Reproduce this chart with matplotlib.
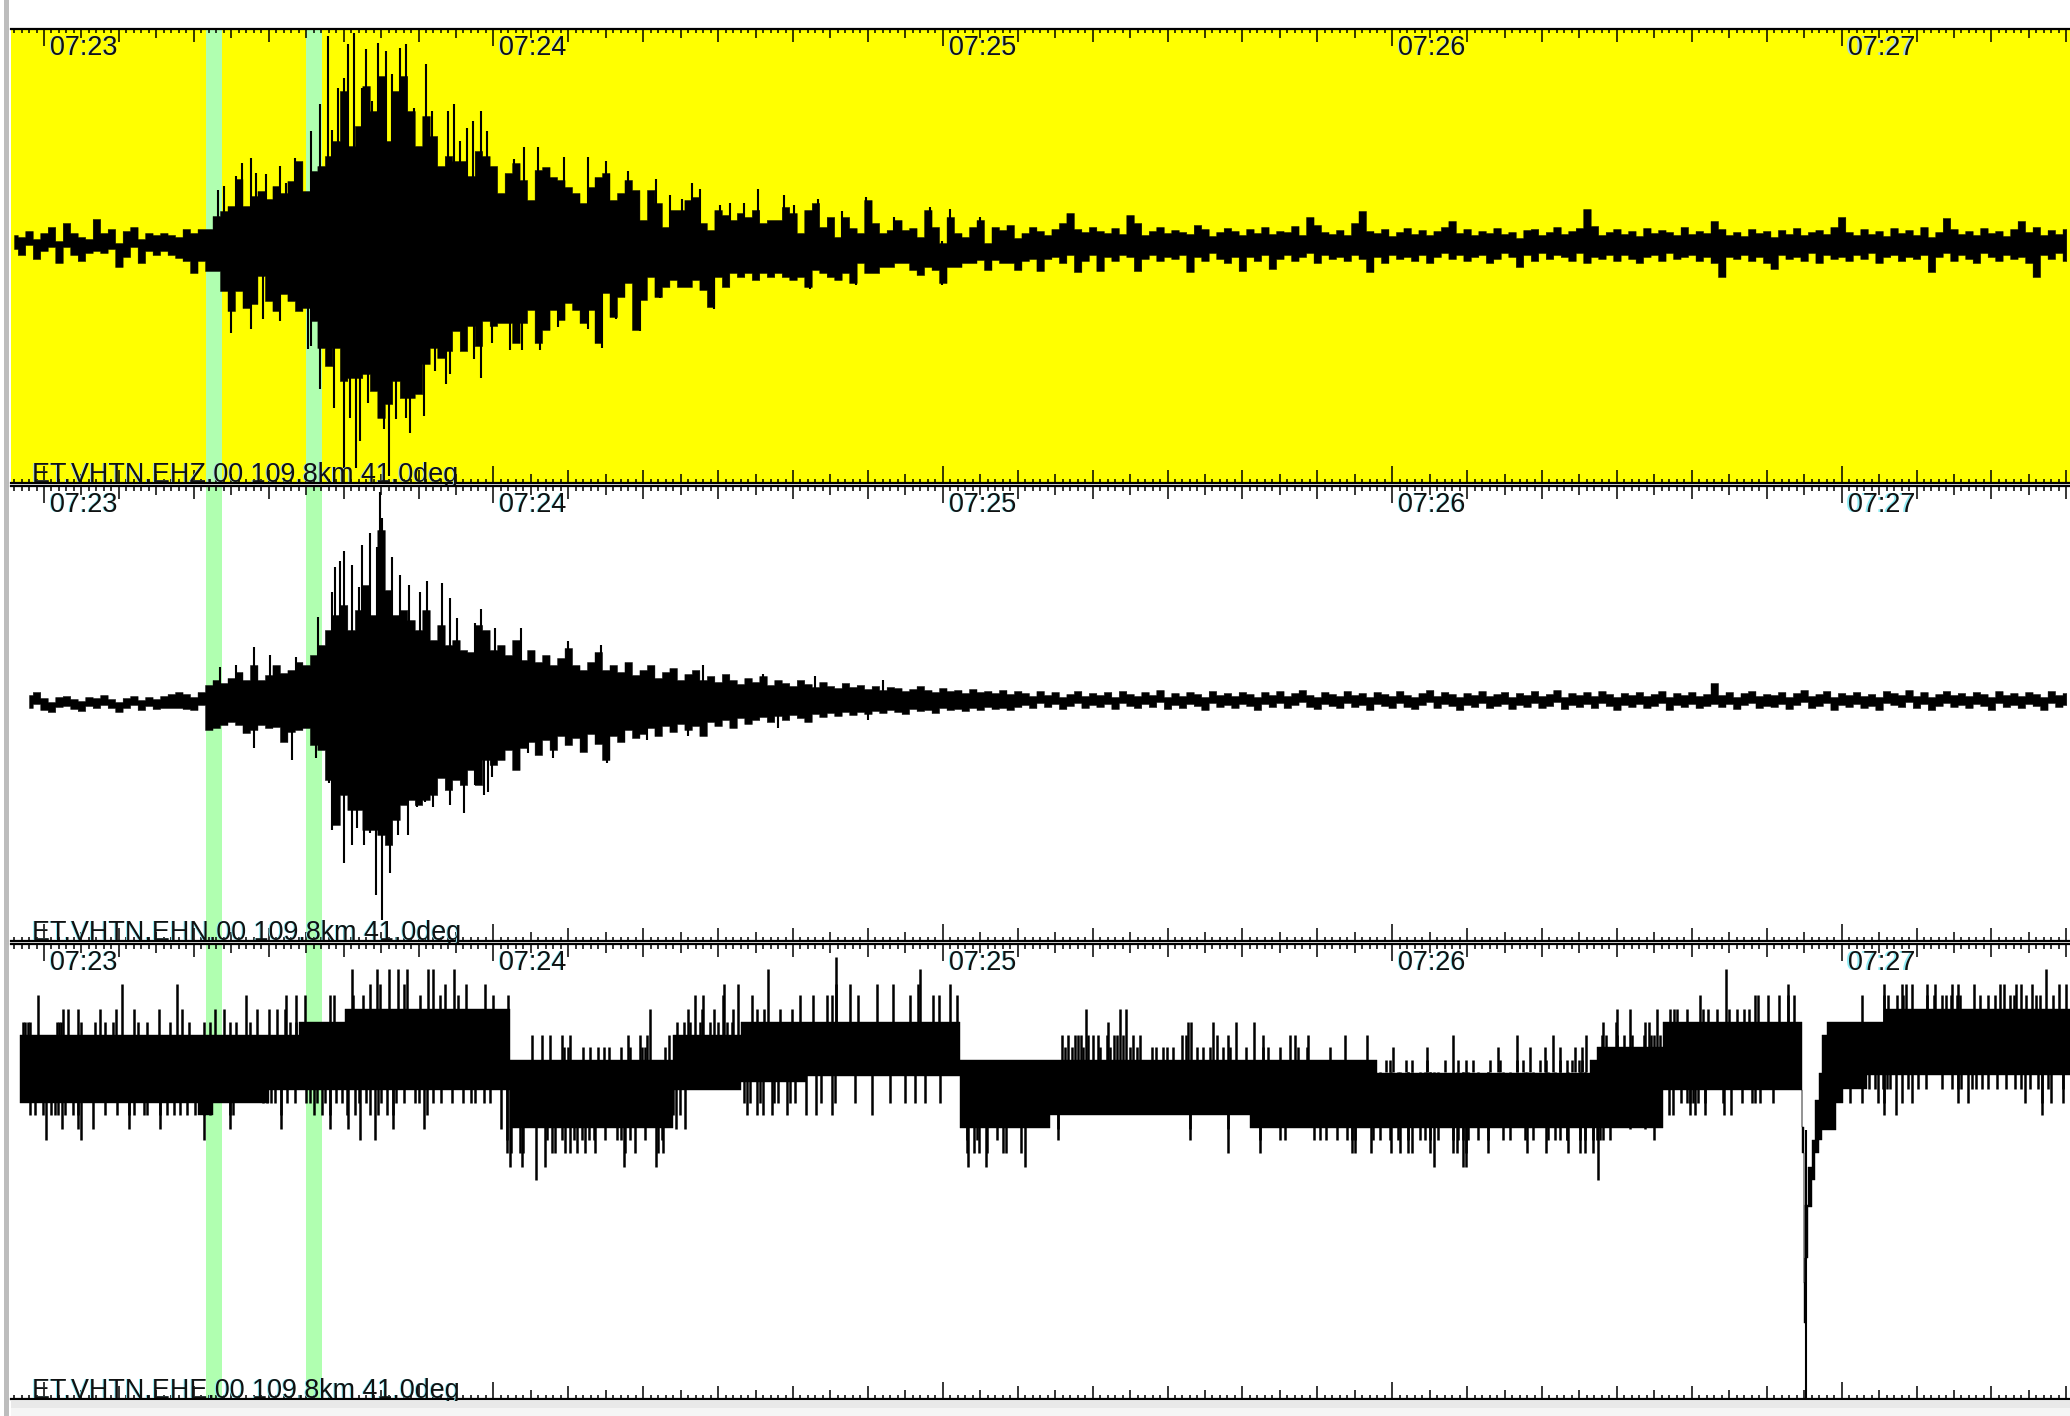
import numpy as np
import matplotlib
matplotlib.use("Agg")
import matplotlib.pyplot as plt
from matplotlib.patches import Rectangle
from matplotlib.transforms import blended_transform_factory as blend

W, H = 2070, 1416
plt.rcParams['font.family'] = ['Liberation Sans', 'DejaVu Sans']

minute_labels = ["07:23", "07:24", "07:25", "07:26", "07:27"]
channel_labels = ["ET.VHTN.EHZ.00 109.8km 41.0deg", "ET.VHTN.EHN.00 109.8km 41.0deg", "ET.VHTN.EHE.00 109.8km 41.0deg"]
pick_windows = [(21.6, 23.75), (35.0, 37.15)]

# ---- EHZ: amplitude up / down for each second from 07:22:56
p1_hi_pre = [6,4,10,2,8,14,0,18,8,4,2,22,8,12,-2,10,14,2,8,6,8,6]
p1_lo_pre = [8,14,4,18,10,6,22,6,14,20,12,10,12,8,26,16,6,22,10,14,10,14]
p1_hi_event = [4,12,8,12,12,25,30,35,62,35,45,50,42,55,48,60,80,50,70,75,85,100,150,95,115,155,130,165,100,150,165,130,95,125,105,75,85,80,80,65,90,85,75]
p1_lo_event = [17,20,32,20,30,30,50,70,50,67,63,35,60,70,53,60,70,67,80,107,125,107,140,137,137,133,150,177,163,140,157,157,153,123,107,117,110,90,110,85,105,80,85]
p1_hi_coda = [48,68,78,61,41,71,74,64,61,54,48,38,54,64,68,41,48,61,51,21,51,38,14,31,31,41,44,18,11,31,26,21,28,24,31,18,21,21,34,28,8,31,38,14,24,4,24,13,8,41,18,8,11,21,11,13,4,31,14,-2,24,8,4,14,21,-2,14,11,16,3]
p1_lo_coda = [82,82,102,82,69,102,89,69,79,62,69,82,69,102,52,76,56,42,89,59,36,56,46,39,46,46,39,49,66,36,46,32,36,32,39,32,36,32,36,39,36,46,29,32,36,39,32,42,22,32,32,26,26,22,22,29,34,26,29,42,26,26,22,22,19,29,19,22,22,29]
p1_hi_late = [8,14,10,6,12,18,28,12,9,14, 10,8,13,7,26,18,6,10,14,8, 11,9,7,16,12,5,9,13,10,6, 12,8,14,7,10,9,15,6,24,16, 9,7,11,6,18,30,10,8,12,5, 9,13,7,11,6,10,14,20,8,12, 6,10,8,13,7,9,3,11,12,6, 9,14,7,10,13,32,15,6,9,12, 7,10,5,13,8,11,9,6,14,7, 10,8,20,12,6,9,5,12,8,10, 4,11,7,13,6,9,11,7,14,24, 9,6,12,7,10,5,13,8,11,6, 14,4,9,23,12,7,10,6,13,8, 10,5,12,20,9,14,6,11,7,12]
p1_lo_late = [20,18,30,18,16,22,14,31,20,14, 30,16,20,14,16,30,18,14,20,16, 18,14,31,16,20,12,18,22,16,30, 16,20,14,28,18,14,20,16,12,22, 14,18,16,20,14,18,31,16,22,14, 18,16,20,14,22,16,12,18,14,20, 16,14,22,18,12,16,26,14,20,12, 18,14,16,20,12,22,16,18,14,20, 14,18,22,16,14,20,12,18,16,14, 20,16,22,36,16,18,14,20,16,22, 28,14,18,16,20,12,22,14,18,16, 20,14,18,12,22,16,14,20,16,18, 14,31,16,12,20,14,18,22,12,16, 20,14,18,16,22,36,14,18,12,20]
p1_up_t = [37.9,40.6,41.4,43,44.6,45.6,46.4,47.5,48.3,51,36.9,35.7,39.3,42.4,43.8,40,49.4,51.8,53.9,54.8,56.5,57.3,58.4,59.2,55.6,33.5,31.5,27.7,26.4,29.6,28.3,25.7,24,23.2,32.3,38.4,
           64.1,66,62.8,69.4,72.6,75.1,78,81.7,86.5,87.6,83.6,85.2,90.3,91.6,93.5,95.3,98.8,100.2,103.4,106.6,109.8,113.5,118.3,121,125]
p1_up_v = [205,197,208,192,198,190,167,193,197,177,137,110,153,153,140,163,133,130,130,137,113,120,130,110,100,83,75,83,78,67,68,65,55,51,58,111,
           94,94,82,84,84,80,70,62,58,52,46,42,36,38,38,52,46,36,42,30,44,24,34,32,24]
p1_dn_t = [40,41.6,46,25,27.7,29.3,31.5,35.3,35.7,36.9,38,38.7,40.8,42.2,43.3,44.3,45.4,47,48.9,50.7,53.7,54.2,57.4,58.4,59.8,52.2,48.3,
           62.2,63.8,66.2,74.5,79.6,89.5,68.6,72.6,76.4,82.3,102.3,108.4,119.9]
p1_dn_v = [227,227,235,92,88,78,80,108,105,148,123,167,177,200,162,150,188,178,192,175,143,133,118,137,102,130,177,
           109,109,109,107,90,68,86,88,78,57,48,44,44]

# ---- EHN: amplitude up / down for each second from 07:22:58
p2_hi_pre = [5,8,2,-2,3,4,1,-1,3,2,5,1,-2,2,4,0,3,1,4,6]
p2_lo_pre = [8,4,10,12,7,6,9,11,6,8,5,8,12,8,5,10,6,9,8,8]
p2_hi_event = [8,6,3,8,15,20,17,22,28,20,35,20,25,35,27,30,38,35,45,55,70,85,95,70,90,115,85,170,110,85,90,80,70,90,60,75,55,60,50,48,75,70,50]
p2_lo_event = [8,9,10,5,30,28,25,22,25,33,30,25,28,27,42,32,30,28,45,50,80,125,95,110,110,130,130,135,145,120,105,100,105,100,95,78,90,80,85,70,85,60,65]
p2_hi_coda = [55,45,60,40,50,38,45,35,42,52,35,30,38,48,30,35,28,38,25,30,35,22,28,32,20,26,30,20,24,18,26,20,16,22,18,24,15,20,17,14,20,16,13,18,14,12,17,13,15,11,14,10,13,12,9,11,14,10,8,12,9,10,7,11,8,9,7,10,6,9]
p2_lo_coda = [60,50,70,48,42,55,40,50,36,45,38,52,34,44,60,36,42,30,38,34,28,36,26,32,24,30,26,36,22,26,20,28,18,24,20,17,22,16,20,15,18,22,14,17,13,16,12,15,12,14,11,13,10,12,14,9,11,10,13,8,10,9,11,8,10,7,9,8,10,7]
p2_hi_late = [7,4,9,5,8,3,6,9,4,7, 5,8,3,9,6,4,8,5,10,3, 7,4,8,6,3,9,5,7,4,8, 6,3,8,5,9,4,7,10,5,3, 8,6,4,9,5,7,3,8,6,4, 9,5,3,7,10,4,8,6,3,7, 5,9,4,6,8,3,7,5,9,4, 6,10,3,7,5,8,4,9,6,3, 7,5,8,4,6,9,3,7,5,8, 4,6,17,5,8,3,7,9,4,6, 5,8,3,7,10,4,6,9,3,7, 5,8,4,6,3,9,7,5,10,4, 8,3,6,9,5,7,4,8,6,3, 9,5,7,4,8,6,3,9,5,7]
p2_lo_late = [5,8,3,7,4,9,6,3,8,5, 7,4,9,3,6,8,4,7,2,9, 5,8,4,6,10,3,7,5,8,4, 6,10,4,7,3,8,5,2,7,9, 4,6,8,3,7,5,10,4,6,8, 3,7,9,5,2,8,4,6,10,5, 7,3,8,6,4,9,5,7,3,8, 6,2,9,5,7,4,8,3,6,10, 5,7,4,8,6,3,10,5,7,4, 8,6,4,7,4,9,5,3,8,6, 7,4,9,5,2,8,6,3,10,5, 7,4,8,6,10,3,5,7,2,8, 4,10,6,3,7,5,8,4,6,10, 3,7,5,8,4,6,10,3,7,5]
p2_up_t = [28,30.2,33.7,23.5,25.6,36.6,38.9,39.5,40.1,41.1,42.5,43.5,44.4,44.9,45.1,46.4,47.5,48.7,50.2,51.2,53.1,54.2,55.1,58.4,57.6,60.2,38.5,42,63.7,70,74.3,88,96,103,112]
p2_up_v = [53,45,43,33,35,83,133,139,149,135,155,167,153,208,182,143,125,115,108,119,117,102,82,91,77,72,108,113,72,59,55,35,26,24,20]
p2_dn_t = [28,33.1,36.3,38,38.5,40.1,41.1,41.8,42.7,43.5,44.3,45.1,46.2,47.3,48.6,49.8,50.9,51.9,54.2,56.1,57.6,58.7,52.4,59.8,59.3,75.2,55.8,64.6,80.5,68,86,98,110]
p2_dn_v = [48,60,58,83,130,163,145,128,145,133,195,220,173,135,135,107,102,107,105,113,85,95,92,77,92,63,79,53,40,58,36,28,20]

# ---- EHE: stepped band plus spikes sorted by digitiser level
p3_t = [-3.2,20.6,22.6,30,34,40.2,62.2,84,93,101.8,122.3,134.3,161,178,206.4,207.3,216.2,234.75,234.95,235.15,235.56,236,236.45,237,237.35,238,239.3,240.2,243.4,245.6,270.6]
p3_hi = [27,27,27,27,40,53,2,27,40,40,2,2,2,-11,2,15,40,-65,-221,-143,-105,-78,-38,-11,27,40,40,40,40,53,53]
p3_lo = [-41,-53,-41,-28,-28,-28,-66,-28,-20,-14,-66,-53,-66,-66,-66,-66,-28,-91,-261,-196,-145,-118,-91,-78,-68,-68,-41,-27,-13,-13,-13]
p3_dropout_t = [235.25]
p3_dropout_lo = [-339]
p3_dropout_hi = [-68]

p3_up_105 = [105.8]
p3_up_93 = [41.1,44.4,46.1,47.3,48.5,51.3,52,54.7,96.6,117,224.6,267.3]
p3_up_78 = [10.4,17.7,43.5,44.9,48,53.5,56.4,58.9,90.8,92.7,111.2,113.4,116.7,121,105.8,107.6,232.9,245.6,248,248.6,249.4,251.4,252.5,254.7,255.6,257.7,261.2,261.7,263.3,264,265.4,269,270]
p3_up_67 = [-0.8,27,32.3,33.6,34.8,38.2,38.7,41.3,42.6,50.2,52.9,55.3,60,62,86.9,88,90.7,94.5,100.9,102.7,104.5,105.2,108.7,115.6,118.7,119.5,121.9,221.1,228.4,228.9,230.2,231.6,232.9,233.6,242.7,245.6,246.2,247.4,248.2,251.4,252.3,253.4,254,254.6,255.4,255.8,258.5,259.6,260.5,262.5,263,264.6,265.9,266.5,268.2]
p3_up_53 = [2.6,3.2,4.6,7.5,9.6,12,15.3,18.4,22.8,24,28.4,30,31.1,32.2,80.9,86,87.8,89.4,92,95.2,96.1,98.3,99.8,139.1,143.6,144.4,210,211.7,215.4,217.1,217.6,218,219.3,221.5,222.2,223.4,225,226,227,227.6]
p3_up_40 = [-2.8,-2.6,-2.2,-1.9,1.7,2,2.3,5,6.8,8.1,9.2,12.6,13.7,16.8,19.3,21.3,22.2,24.8,25.7,27.5,32.8,33.7,84.5,85.4,86.3,87.6,88.9,90,91.2,91.8,142.1,152.8,153.2,156.1,159.1,161.5,208.2,209.9,213.7,214.3]
p3_up_27 = [65.1,66.5,67.6,69.1,70.2,78,79.6,80.5,83.4,135.9,136.7,137.6,138.1,138.5,139.4,140.1,140.7,141.9,142.8,143.2,144.1,145.4,146.3,151.9,152.5,156.6,158.1,162.8,166.3,167,168.8,173.7,176.6,188.1,196.6,201.5,205.9,208,208.6,210,211,212,213.6,214.5,215,215.8]
p3_up_15 = [69.4,70,72,72.9,74,74.7,75.4,77.1,78.2,79.8,80.2,82.9,136.3,137.2,138.7,141,142.3,145,145.9,147.9,148.5,149.4,149.9,150.8,153.9,154.8,155.7,157.4,158.3,160.5,162.8,163.4,165,167.4,168.6,171.7,180.1,184.6,194.1,198.4,200.4,202.4,204.4,205.3]
p3_up_2 = [179.2,179.7,181.9,182.6,184.6,187,188.8,189.9,190.8,193,194.4,196.6,197.5,199.7,200.6,202.4,203.3,204,205,205.4]
p3_dn_118 = [65.7,207.5]
p3_dn_105 = [62.2,63.8,66.9,77.4,81.7,123.3,125.8,131,185.6,189.5,189.8]
p3_dn_91 = [61.8,62.4,63.5,64,67.8,68.2,69.6,70.2,71.1,72.2,73.6,77.6,78.9,82,82.7,123.2,124.1,124.8,125.9,128.1,128.5,130.5,158.1,162.3,174.6,175,177.2,179.9,181,182.1,182.6,185,188.1,188.6,189.9,192.8,198,200.6,203.5,205.1,205.7,206.8]
p3_dn_78 = [0.3,5,21.3,42.2,44.2,61.8,67.1,69.1,70.7,71.8,72.7,73.4,74.9,76.5,77.1,78.2,80.3,82.5,123.2,124.5,127.2,135.4,153,162.3,165,165.7,169.5,170.3,171.2,172.6,173.9,174.6,175,177.5,178.4,179.7,180.8,182.1,183.7,184.4,185.1,186.1,188.1,188.8,189.5,190.1,191.5,192.8,194.8,195.7,197.7,198.8,200.8,201.7,203.3,202.4,203.3,205.1,205.7,206.8,207.3,207.8,208.2,209.1,214.9]
p3_dn_67 = [2.4,4.6,6.6,11.3,15.5,24.8,31.7,38.2,40.6,46.6,50.7,61,84.4,85.6,135.4,153,158.1,211.7,213.7]
p3_dn_53 = [-1.9,-1.2,-0.1,1,1.5,1.9,2.8,3.9,4.6,8.1,9.7,11.3,12,13.3,13.7,15.5,16.4,17.3,18.2,19.1,20.2,21.3,22.2,24.8,25.3,31.7,36,37.1,38.2,40.4,41.5,43.5,44.6,45.8,46.6,51.1,84,84.9,93.8,95.2,96,97.2,99.2,101.8,103.1,105.2,110.5,216.9,217.5,219.8,220.4,221.7,224.3,225.3,245.7,247.3,266.7]
p3_dn_41 = [29.3,29.8,30.3,30.8,32.5,33.5,35,35.5,36.5,37.5,39,39.8,42,43,45,47,48,49.5,50,52,53,54.5,56,57,57.5,58.7,59.5,93.4,94.3,95.6,97.4,98,99.6,100.3,103.8,105.6,108.3,113,115,116.3,117.6,119.6,218.5,219.3,219.8,220.2,220.8,221.7,224.2,226.7,228,228.4,229.1,230.9,241.1,242.7,244.9,245.6,248,249.4,255.6,256.9,264.5,266.7,268,269.6]
p3_dn_27 = [224.5,225.5,226,227.5,228,229.5,230.2,231,231.5,232.5,233.5,234,243.6,244.5,245.5,246,246.5,248.9,250.2,251.3,253.4,254.7,255.5,256,257.4,258,258.8,259.5,260.8,262,263.2,263.9,265.2,266.2,267.5,269.5]

px_per_s = 7.49
x_origin_px = 44.0
left_px = 11
panels_px = [(29, 483, 241), (486, 941, 700), (944, 1399, 1062)]

fig = plt.figure(figsize=(W / 100, H / 100), dpi=100, facecolor='white')
fig.add_artist(Rectangle((4 / W, 0), 4.5 / W, 1, transform=fig.transFigure, color='#bdbdbd', lw=0))
fig.add_artist(Rectangle((left_px / W, 0), 1, 8 / H, transform=fig.transFigure, color='#f5f5f5', lw=0))
fig.add_artist(Rectangle((left_px / W, 8 / H), 1, 7 / H, transform=fig.transFigure, color='#e9e9e9', lw=0))

def make_axes(top, bottom, base, face):
    ax = fig.add_axes([left_px / W, 1 - bottom / H, (W - left_px) / W, (bottom - top) / H], facecolor=face)
    ax.set_xlim((left_px - x_origin_px) / px_per_s, (W - x_origin_px) / px_per_s)
    ax.set_ylim(base - bottom, base - top)
    for s in ax.spines.values():
        s.set_visible(False)
    ax.set_xticks([])
    ax.set_yticks([])
    return ax

def spikes(ax, t, lo, hi, lw=1.5):
    ax.vlines(t, lo, hi, color='black', lw=lw, zorder=3, capstyle='butt')

def furniture(ax, label, halo):
    h = ax.get_ylim()[1] - ax.get_ylim()[0]
    tr = blend(ax.transData, ax.transAxes)
    for w0, w1 in pick_windows:
        ax.axvspan(w0, w1, color='#b0ffb0', lw=0, zorder=1)
    for sec in range(-4, 271):
        if sec % 60 == 0:
            ln = 17
        elif sec % 10 == 0:
            ln = 13
        elif sec % 5 == 0:
            ln = 9
        else:
            ln = 4.5
        ax.plot([sec, sec], [1, 1 - ln / h], transform=tr, color='black', lw=1.1, zorder=5, solid_capstyle='butt')
        ax.plot([sec, sec], [0, ln / h], transform=tr, color='black', lw=1.1, zorder=5, solid_capstyle='butt')
    ax.plot([0, 1], [1, 1], transform=ax.transAxes, color='black', lw=1.6, zorder=6, clip_on=False)
    ax.plot([0, 1], [0, 0], transform=ax.transAxes, color='black', lw=1.6, zorder=6, clip_on=False)
    for i, lab in enumerate(minute_labels):
        for col, dx, z in ((halo, -1.2, 7), ('#111111', 0, 8)):
            ax.annotate(lab, xy=(i * 60, 1), xycoords=tr, xytext=(6 + dx, -6), textcoords='offset pixels',
                        ha='left', va='top', fontsize=19.4, color=col, zorder=z)
    for col, dx, z in ((halo, -1.2, 7), ('#111111', 0, 8)):
        ax.annotate(label, xy=(0, 0), xycoords='axes fraction', xytext=(21 + dx, -5), textcoords='offset pixels',
                    ha='left', va='bottom', fontsize=19.4, color=col, zorder=z, annotation_clip=False)

def columns(ax, start, hi, lo):
    n = min(len(hi), len(lo))
    t = start + np.arange(n)
    ax.fill_between(t, np.array(hi[:n]), -np.array(lo[:n]), step='mid', color='black', lw=0.3, zorder=3)

# EHZ
top, bottom, base = panels_px[0]
ax1 = make_axes(top, bottom, base, '#ffff00')
columns(ax1, -4, p1_hi_pre + p1_hi_event + p1_hi_coda + p1_hi_late, p1_lo_pre + p1_lo_event + p1_lo_coda + p1_lo_late)
spikes(ax1, p1_up_t, 0, p1_up_v)
spikes(ax1, p1_dn_t, -np.array(p1_dn_v), 0)
furniture(ax1, channel_labels[0], '#a8d4e8')

# EHN
top, bottom, base = panels_px[1]
ax2 = make_axes(top, bottom, base, 'white')
columns(ax2, -2, p2_hi_pre + p2_hi_event + p2_hi_coda + p2_hi_late, p2_lo_pre + p2_lo_event + p2_lo_coda + p2_lo_late)
spikes(ax2, p2_up_t, 0, p2_up_v)
spikes(ax2, p2_dn_t, -np.array(p2_dn_v), 0)
furniture(ax2, channel_labels[1], '#8fecf5')

# EHE
top, bottom, base = panels_px[2]
ax3 = make_axes(top, bottom, base, 'white')
ax3.fill_between(p3_t, p3_hi, p3_lo, step='post', color='black', lw=0.3, zorder=3)
spikes(ax3, p3_dropout_t, p3_dropout_lo, p3_dropout_hi)
for lev, ts in ((105, p3_up_105), (93, p3_up_93), (78, p3_up_78), (67, p3_up_67), (53, p3_up_53), (40, p3_up_40), (27, p3_up_27), (15, p3_up_15), (2, p3_up_2)):
    spikes(ax3, ts, -10, lev, lw=1.8)
for lev, ts in ((118, p3_dn_118), (105, p3_dn_105), (91, p3_dn_91), (78, p3_dn_78), (67, p3_dn_67), (53, p3_dn_53), (41, p3_dn_41), (27, p3_dn_27)):
    spikes(ax3, ts, -lev, -10, lw=1.8)
furniture(ax3, channel_labels[2], '#8fecf5')

fig.savefig('out.png', dpi=100, facecolor='white')
